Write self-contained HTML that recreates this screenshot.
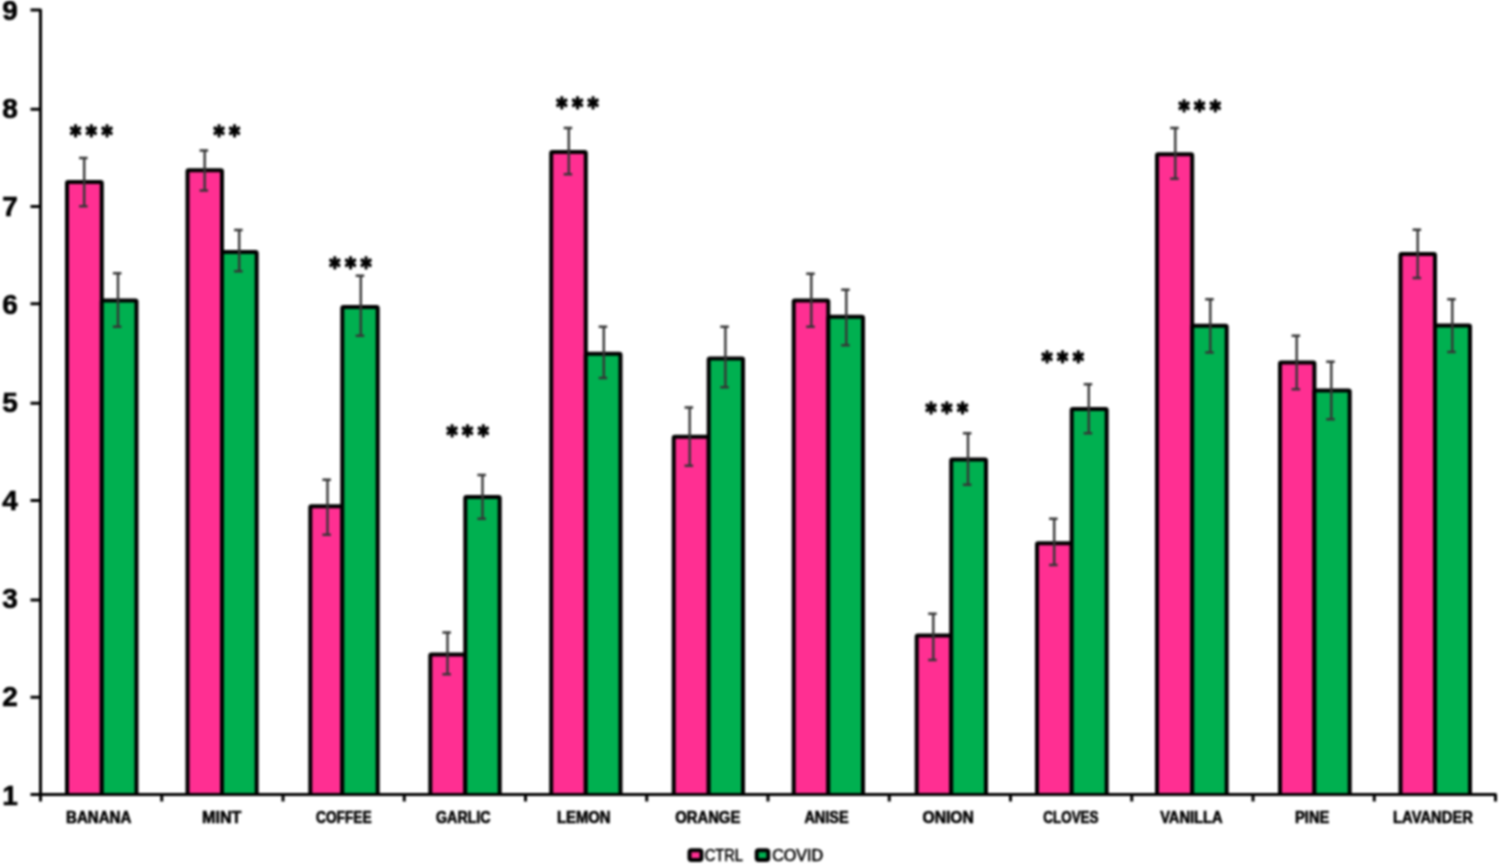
<!DOCTYPE html>
<html lang="en">
<head>
<meta charset="utf-8">
<title>Odor ratings CTRL vs COVID</title>
<style>
html,body{margin:0;padding:0;background:#fff;}
body{width:1499px;height:865px;overflow:hidden;}
svg{display:block;filter:blur(0.9px);}
.num{font-family:"Liberation Sans","DejaVu Sans",sans-serif;font-weight:700;font-size:28px;fill:#000;stroke:#000;stroke-width:0.6;}
.lab{font-family:"Liberation Sans","DejaVu Sans",sans-serif;font-weight:700;font-size:16px;fill:#000;stroke:#000;stroke-width:0.6;text-anchor:middle;}
.star{font-family:"DejaVu Sans","Liberation Sans",sans-serif;font-weight:700;font-size:25px;fill:#000;stroke:#000;stroke-width:1.6;stroke-linejoin:round;letter-spacing:5.4px;}
.leg{font-family:"Liberation Sans","DejaVu Sans",sans-serif;font-weight:400;font-size:16px;fill:#000;stroke:#000;stroke-width:0.55;}
.bar{stroke:#000;stroke-width:4;stroke-linejoin:round;}
.p{fill:#FF2F92;}
.g{fill:#00B050;}
.err{stroke:#363636;stroke-width:2.4;fill:none;}
.ax{stroke:#000;stroke-width:3;fill:none;stroke-linejoin:round;stroke-linecap:butt;}
</style>
</head>
<body>
<svg width="1499" height="865" viewBox="0 0 1499 865">
<rect x="0" y="0" width="1499" height="865" fill="#fff"/>
<g>
<path class="bar p" d="M67.00 794.40V183.20q0 -1.2 1.2 -1.2h32.40q1.2 0 1.2 1.2V794.40"/>
<path class="bar g" d="M101.80 794.40V301.60q0 -1.2 1.2 -1.2h32.30q1.2 0 1.2 1.2V794.40"/>
<path class="bar p" d="M187.50 794.40V171.50q0 -1.2 1.2 -1.2h32.10q1.2 0 1.2 1.2V794.40"/>
<path class="bar g" d="M222.00 794.40V253.20q0 -1.2 1.2 -1.2h32.30q1.2 0 1.2 1.2V794.40"/>
<path class="bar p" d="M310.30 794.40V507.50q0 -1.2 1.2 -1.2h29.60q1.2 0 1.2 1.2V794.40"/>
<path class="bar g" d="M342.30 794.40V308.20q0 -1.2 1.2 -1.2h33.00q1.2 0 1.2 1.2V794.40"/>
<path class="bar p" d="M430.30 794.40V655.80q0 -1.2 1.2 -1.2h32.60q1.2 0 1.2 1.2V794.40"/>
<path class="bar g" d="M465.30 794.40V498.20q0 -1.2 1.2 -1.2h32.00q1.2 0 1.2 1.2V794.40"/>
<path class="bar p" d="M551.20 794.40V153.20q0 -1.2 1.2 -1.2h32.20q1.2 0 1.2 1.2V794.40"/>
<path class="bar g" d="M585.80 794.40V355.00q0 -1.2 1.2 -1.2h32.30q1.2 0 1.2 1.2V794.40"/>
<path class="bar p" d="M673.70 794.40V437.90q0 -1.2 1.2 -1.2h32.60q1.2 0 1.2 1.2V794.40"/>
<path class="bar g" d="M708.70 794.40V359.60q0 -1.2 1.2 -1.2h31.90q1.2 0 1.2 1.2V794.40"/>
<path class="bar p" d="M793.70 794.40V301.60q0 -1.2 1.2 -1.2h32.20q1.2 0 1.2 1.2V794.40"/>
<path class="bar g" d="M828.30 794.40V317.90q0 -1.2 1.2 -1.2h32.30q1.2 0 1.2 1.2V794.40"/>
<path class="bar p" d="M916.70 794.40V636.60q0 -1.2 1.2 -1.2h32.10q1.2 0 1.2 1.2V794.40"/>
<path class="bar g" d="M951.20 794.40V460.80q0 -1.2 1.2 -1.2h32.40q1.2 0 1.2 1.2V794.40"/>
<path class="bar p" d="M1037.00 794.40V544.50q0 -1.2 1.2 -1.2h32.30q1.2 0 1.2 1.2V794.40"/>
<path class="bar g" d="M1071.70 794.40V410.10q0 -1.2 1.2 -1.2h32.60q1.2 0 1.2 1.2V794.40"/>
<path class="bar p" d="M1157.00 794.40V155.40q0 -1.2 1.2 -1.2h32.80q1.2 0 1.2 1.2V794.40"/>
<path class="bar g" d="M1192.20 794.40V327.00q0 -1.2 1.2 -1.2h32.10q1.2 0 1.2 1.2V794.40"/>
<path class="bar p" d="M1280.00 794.40V363.80q0 -1.2 1.2 -1.2h32.00q1.2 0 1.2 1.2V794.40"/>
<path class="bar g" d="M1314.40 794.40V391.60q0 -1.2 1.2 -1.2h32.90q1.2 0 1.2 1.2V794.40"/>
<path class="bar p" d="M1400.50 794.40V255.20q0 -1.2 1.2 -1.2h32.10q1.2 0 1.2 1.2V794.40"/>
<path class="bar g" d="M1435.00 794.40V326.60q0 -1.2 1.2 -1.2h32.60q1.2 0 1.2 1.2V794.40"/>
</g>
<g>
<path class="err" d="M79.10 158.00h8.5M84.20 158.00V206.30M79.10 206.30h8.5"/>
<path class="err" d="M112.90 273.30h8.5M118.00 273.30V326.70M112.90 326.70h8.5"/>
<path class="err" d="M199.60 150.50h8.5M204.70 150.50V190.50M199.60 190.50h8.5"/>
<path class="err" d="M234.10 230.00h8.5M239.20 230.00V271.30M234.10 271.30h8.5"/>
<path class="err" d="M322.40 479.70h8.5M327.50 479.70V534.70M322.40 534.70h8.5"/>
<path class="err" d="M355.70 275.80h8.5M360.80 275.80V335.80M355.70 335.80h8.5"/>
<path class="err" d="M442.40 632.50h8.5M447.50 632.50V674.20M442.40 674.20h8.5"/>
<path class="err" d="M477.40 475.00h8.5M482.50 475.00V518.70M477.40 518.70h8.5"/>
<path class="err" d="M563.70 128.00h8.5M568.80 128.00V174.20M563.70 174.20h8.5"/>
<path class="err" d="M598.70 326.70h8.5M603.80 326.70V378.00M598.70 378.00h8.5"/>
<path class="err" d="M684.60 407.50h8.5M689.70 407.50V465.80M684.60 465.80h8.5"/>
<path class="err" d="M720.30 326.70h8.5M725.40 326.70V387.20M720.30 387.20h8.5"/>
<path class="err" d="M806.20 273.80h8.5M811.30 273.80V326.70M806.20 326.70h8.5"/>
<path class="err" d="M841.20 289.70h8.5M846.30 289.70V345.30M841.20 345.30h8.5"/>
<path class="err" d="M928.20 613.70h8.5M933.30 613.70V660.00M928.20 660.00h8.5"/>
<path class="err" d="M962.90 433.30h8.5M968.00 433.30V484.70M962.90 484.70h8.5"/>
<path class="err" d="M1049.10 518.80h8.5M1054.20 518.80V565.00M1049.10 565.00h8.5"/>
<path class="err" d="M1083.70 384.20h8.5M1088.80 384.20V433.30M1083.70 433.30h8.5"/>
<path class="err" d="M1170.20 128.00h8.5M1175.30 128.00V178.70M1170.20 178.70h8.5"/>
<path class="err" d="M1205.20 299.20h8.5M1210.30 299.20V352.50M1205.20 352.50h8.5"/>
<path class="err" d="M1291.60 335.80h8.5M1296.70 335.80V389.20M1291.60 389.20h8.5"/>
<path class="err" d="M1326.20 361.70h8.5M1331.30 361.70V419.20M1326.20 419.20h8.5"/>
<path class="err" d="M1412.60 229.70h8.5M1417.70 229.70V278.00M1412.60 278.00h8.5"/>
<path class="err" d="M1447.20 299.20h8.5M1452.30 299.20V352.00M1447.20 352.00h8.5"/>
</g>
<g>
<path class="ax" d="M30.50 10.00H40.50V801.40"/>
<path class="ax" d="M30.50 794.40H1495.50V801.40"/>
<path class="ax" d="M30.50 697.20H40.50M30.50 600.00H40.50M30.50 500.40H40.50M30.50 403.20H40.50M30.50 303.80H40.50M30.50 206.60H40.50M30.50 109.30H40.50"/>
<path class="ax" d="M161.75 794.40V801.40M283.00 794.40V801.40M404.25 794.40V801.40M525.50 794.40V801.40M646.75 794.40V801.40M768.00 794.40V801.40M889.25 794.40V801.40M1010.50 794.40V801.40M1131.75 794.40V801.40M1253.00 794.40V801.40M1374.25 794.40V801.40"/>
</g>
<g>
<text class="num" x="2.2" y="804.50">1</text>
<text class="num" x="2.2" y="706.45">2</text>
<text class="num" x="2.2" y="608.40">3</text>
<text class="num" x="2.2" y="510.35">4</text>
<text class="num" x="2.2" y="412.30">5</text>
<text class="num" x="2.2" y="314.25">6</text>
<text class="num" x="2.2" y="216.20">7</text>
<text class="num" x="2.2" y="118.15">8</text>
<text class="num" x="2.2" y="20.10">9</text>
</g>
<g>
<text class="lab" x="98.70" y="823.40" textLength="65.2" lengthAdjust="spacingAndGlyphs">BANANA</text>
<text class="lab" x="221.70" y="823.40" textLength="39.2" lengthAdjust="spacingAndGlyphs">MINT</text>
<text class="lab" x="343.80" y="823.40" textLength="55.5" lengthAdjust="spacingAndGlyphs">COFFEE</text>
<text class="lab" x="463.30" y="823.40" textLength="54.5" lengthAdjust="spacingAndGlyphs">GARLIC</text>
<text class="lab" x="583.75" y="823.40" textLength="53.7" lengthAdjust="spacingAndGlyphs">LEMON</text>
<text class="lab" x="707.75" y="823.40" textLength="65.1" lengthAdjust="spacingAndGlyphs">ORANGE</text>
<text class="lab" x="826.50" y="823.40" textLength="44.2" lengthAdjust="spacingAndGlyphs">ANISE</text>
<text class="lab" x="948.20" y="823.40" textLength="51.5" lengthAdjust="spacingAndGlyphs">ONION</text>
<text class="lab" x="1070.90" y="823.40" textLength="55.4" lengthAdjust="spacingAndGlyphs">CLOVES</text>
<text class="lab" x="1191.40" y="823.40" textLength="62.4" lengthAdjust="spacingAndGlyphs">VANILLA</text>
<text class="lab" x="1312.20" y="823.40" textLength="34.2" lengthAdjust="spacingAndGlyphs">PINE</text>
<text class="lab" x="1433.00" y="823.40" textLength="79.8" lengthAdjust="spacingAndGlyphs">LAVANDER</text>
</g>
<g>
<text class="star" transform="translate(70.10 143.10) scale(0.85 1)">***</text>
<text class="star" transform="translate(213.40 143.10) scale(0.85 1)">**</text>
<text class="star" transform="translate(329.20 274.80) scale(0.85 1)">***</text>
<text class="star" transform="translate(446.40 443.40) scale(0.85 1)">***</text>
<text class="star" transform="translate(556.20 115.10) scale(0.85 1)">***</text>
<text class="star" transform="translate(925.60 420.10) scale(0.85 1)">***</text>
<text class="star" transform="translate(1041.40 369.30) scale(0.85 1)">***</text>
<text class="star" transform="translate(1178.40 117.90) scale(0.85 1)">***</text>
</g>
<g>
<rect x="689.5" y="850.3" width="12" height="9.7" rx="2" fill="#FF2F92" stroke="#000" stroke-width="4" stroke-linejoin="round"/>
<text class="leg" x="704.8" y="860.5" textLength="38" lengthAdjust="spacingAndGlyphs">CTRL</text>
<rect x="756.7" y="850.3" width="11.6" height="9.7" rx="2" fill="#00B050" stroke="#000" stroke-width="4" stroke-linejoin="round"/>
<text class="leg" x="772.2" y="860.5" textLength="51" lengthAdjust="spacingAndGlyphs">COVID</text>
</g>
</svg>
</body>
</html>
